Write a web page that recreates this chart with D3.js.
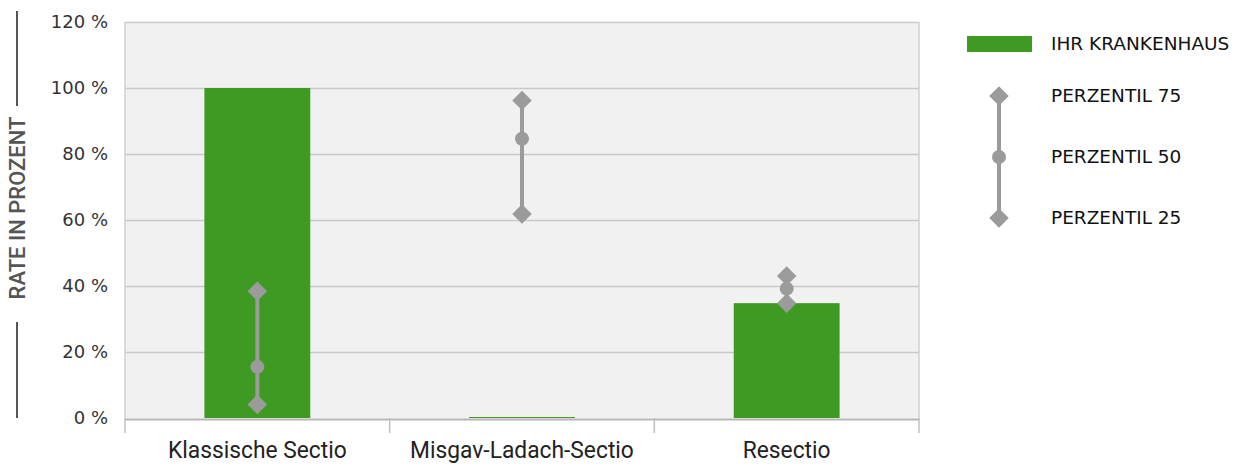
<!DOCTYPE html>
<html><head><meta charset="utf-8">
<script src="https://cdn.jsdelivr.net/npm/d3@7"></script>
<style>body{margin:0;background:#fff}</style>
</head><body>
<script>
const categories = ["Klassische Sectio", "Misgav-Ladach-Sectio", "Resectio"];
const hospital = [100, 0.3, 34.8];
const p75 = [38.4, 96.2, 43.0];
const p50 = [15.5, 84.6, 39.2];
const p25 = [4.1, 61.8, 34.8];
const yTicks = [0, 20, 40, 60, 80, 100, 120];
const legendLabels = ["IHR KRANKENHAUS", "PERZENTIL 75", "PERZENTIL 50", "PERZENTIL 25"];

const W = 1237, H = 466;
const m = {left: 125, right: 318, top: 22, bottom: 48};
const svg = d3.select("body").append("svg").attr("width", W).attr("height", H);
const x = d3.scaleBand().domain(categories).range([m.left, W - m.right]).paddingInner(0).paddingOuter(0);
const y = d3.scaleLinear().domain([0, 120]).range([H - m.bottom, m.top]);
const green = "#3f9a23", grey = "#9b9b9b";

svg.append("rect").attr("x", m.left).attr("y", y(120)).attr("width", x.range()[1] - m.left)
  .attr("height", y(0) - y(120)).attr("fill", "#f1f1f1");
svg.append("g").selectAll("line").data(yTicks.filter(d => d > 0)).join("line")
  .attr("x1", m.left).attr("x2", x.range()[1]).attr("y1", d => y(d) + 0.5).attr("y2", d => y(d) + 0.5)
  .attr("stroke", "#c9c9c9").attr("stroke-width", 1.5);
[m.left, x.range()[1]].forEach(px => svg.append("line").attr("x1", px).attr("x2", px)
  .attr("y1", y(120)).attr("y2", y(0)).attr("stroke", "#d0d0d0").attr("stroke-width", 1.5));
svg.append("g").selectAll("text").data(yTicks).join("text")
  .attr("x", 108).attr("y", d => y(d)).attr("dy", "0.35em").attr("text-anchor", "end")
  .attr("font-family", "DejaVu Sans").attr("font-size", 18).attr("fill", "#333")
  .text(d => d + " %");
// x axis
const xa = svg.append("g").attr("transform", `translate(0,${y(0) + 1})`)
  .call(d3.axisBottom(x).tickSize(0).tickFormat(""));
xa.select(".domain").attr("stroke", "#b5b5b5").attr("stroke-width", 2);
const bounds = [m.left, ...categories.map(c => x(c) + x.bandwidth())];
svg.append("g").selectAll("line").data(bounds).join("line")
  .attr("x1", d => d).attr("x2", d => d).attr("y1", y(0)).attr("y2", y(0) + 15)
  .attr("stroke", "#c0c0c0").attr("stroke-width", 1.5);
svg.append("g").selectAll("text").data(categories).join("text")
  .attr("transform", d => `translate(${x(d) + x.bandwidth() / 2},458) scale(0.95,1)`)
  .attr("text-anchor", "middle").attr("font-family", "Roboto").attr("font-size", 24).attr("fill", "#222")
  .text(d => d);
// bars
const bw = x.bandwidth() * 0.4;
svg.append("g").selectAll("rect").data(categories).join("rect")
  .attr("x", d => x(d) + (x.bandwidth() - bw) / 2).attr("width", bw)
  .attr("y", (d, i) => y(hospital[i])).attr("height", (d, i) => y(0) - y(hospital[i]))
  .attr("fill", green);
// percentile markers
const diamond = d3.symbol().type(d3.symbolSquare).size(190);
const g = svg.append("g");
categories.forEach((c, i) => {
  const cx = x(c) + x.bandwidth() / 2;
  g.append("line").attr("x1", cx).attr("x2", cx).attr("y1", y(p75[i])).attr("y2", y(p25[i]))
    .attr("stroke", grey).attr("stroke-width", 4);
  [p75[i], p25[i]].forEach(v => g.append("path").attr("d", diamond)
    .attr("transform", `translate(${cx},${y(v)}) rotate(45)`).attr("fill", grey));
  g.append("circle").attr("cx", cx).attr("cy", y(p50[i])).attr("r", 7).attr("fill", grey);
});
// y title
const tcx = 17, tcy = 208;
svg.append("text").attr("transform", `translate(${tcx + 8},${tcy}) rotate(-90)`).attr("text-anchor", "middle")
  .attr("font-family", "Roboto").attr("font-weight", 500).attr("font-size", 22).attr("fill", "#555")
  .text("RATE IN PROZENT");
svg.append("line").attr("x1", tcx).attr("x2", tcx).attr("y1", 11).attr("y2", 106).attr("stroke", "#555").attr("stroke-width", 2);
svg.append("line").attr("x1", tcx).attr("x2", tcx).attr("y1", 322).attr("y2", 418).attr("stroke", "#555").attr("stroke-width", 2);
// legend
const lg = svg.append("g");
lg.append("rect").attr("x", 967).attr("y", 36).attr("width", 65).attr("height", 16).attr("fill", green);
const ly = [44, 96, 157, 218];
lg.append("line").attr("x1", 999).attr("x2", 999).attr("y1", ly[1]).attr("y2", ly[3]).attr("stroke", grey).attr("stroke-width", 4);
[ly[1], ly[3]].forEach(v => lg.append("path").attr("d", diamond).attr("transform", `translate(999,${v}) rotate(45)`).attr("fill", grey));
lg.append("circle").attr("cx", 999).attr("cy", ly[2]).attr("r", 7).attr("fill", grey);
lg.selectAll("text").data(legendLabels).join("text")
  .attr("x", 1051).attr("y", (d, i) => ly[i]).attr("dy", "0.35em")
  .attr("font-family", "DejaVu Sans").attr("font-size", 18.5).attr("fill", "#111").text(d => d);
</script>
</body></html>
